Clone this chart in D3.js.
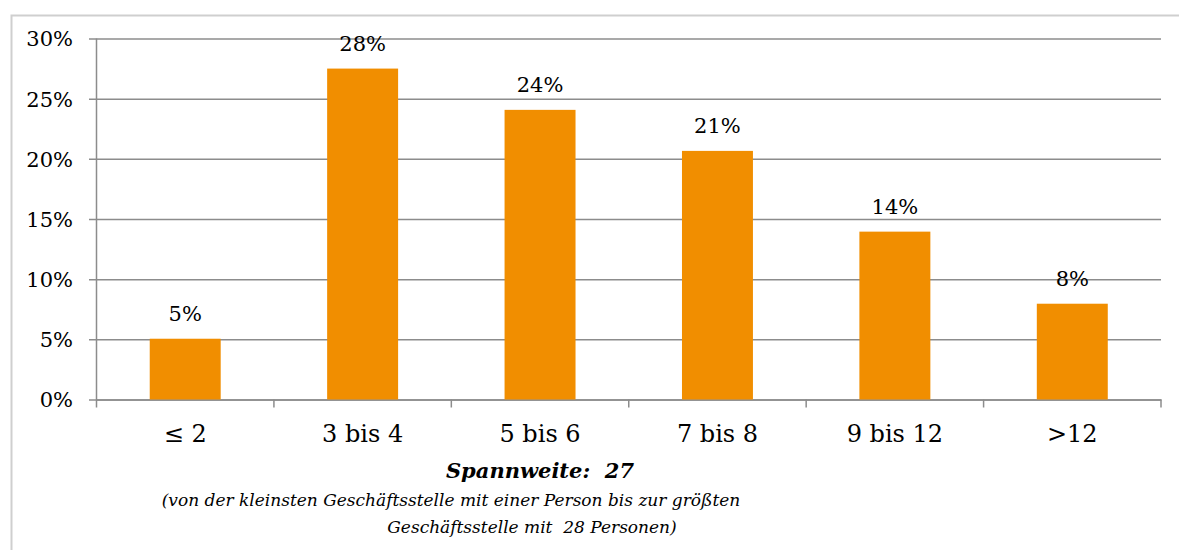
<!DOCTYPE html>
<html>
<head>
<meta charset="utf-8">
<script src="https://cdn.jsdelivr.net/npm/d3@7"></script>
<style>
  body { margin: 0; background: #fff; }
  svg { display: block; font-family: "DejaVu Serif", serif; }
</style>
</head>
<body>
<svg width="1179" height="550"></svg>
<script>
// chart data
var categories = ["≤ 2", "3 bis 4", "5 bis 6", "7 bis 8", "9 bis 12", ">12"];
var values = [5.05, 27.5, 24.07, 20.66, 13.95, 7.96];
var yTicks = [0, 5, 10, 15, 20, 25, 30];
var titleText = "Spannweite:  27";
var noteLines = [
  "(von der kleinsten Geschäftsstelle mit einer Person bis zur größten",
  "Geschäftsstelle mit  28 Personen)"
];

(function() {
  var svg = d3.select("svg");

  // outer frame
  svg.append("rect")
    .attr("x", 11.5).attr("y", 15.5)
    .attr("width", 1200).attr("height", 600)
    .attr("fill", "none")
    .attr("stroke", "#cfcfcf")
    .attr("stroke-width", 2);

  var pLeft = 96.5, pRight = 1161, pTop = 38.5, pBottom = 399.5;

  var x = d3.scaleBand().domain(categories).range([pLeft, pRight]).padding(0);
  var y = d3.scaleLinear().domain([0, 30]).range([pBottom, pTop]);

  // gridlines + y tick labels
  var yAxis = svg.append("g")
    .attr("transform", "translate(89,0)")
    .call(d3.axisLeft(y)
      .tickValues(yTicks)
      .tickSizeInner(-(pRight - 89))
      .tickSizeOuter(0)
      .tickPadding(16)
      .tickFormat(function(d) { return d + "%"; }));
  yAxis.select(".domain").remove();
  yAxis.selectAll("line").attr("stroke", "#8c8c8c").attr("stroke-width", 1.5);
  yAxis.selectAll("text")
    .attr("fill", "#000")
    .attr("font-size", 21)
    .attr("font-family", "DejaVu Serif")
    .attr("dy", "0.35em");

  // y axis line
  svg.append("line")
    .attr("x1", pLeft).attr("x2", pLeft)
    .attr("y1", pTop).attr("y2", pBottom + 8)
    .attr("stroke", "#8c8c8c").attr("stroke-width", 1.5);

  // category boundary ticks
  var bounds = categories.map(function(c) { return x(c); }).concat([x.range()[1]]);
  svg.selectAll(".xtick")
    .data(bounds.slice(1))
    .enter().append("line")
      .attr("class", "xtick")
      .attr("x1", function(d) { return d; })
      .attr("x2", function(d) { return d; })
      .attr("y1", pBottom).attr("y2", pBottom + 8)
      .attr("stroke", "#8c8c8c").attr("stroke-width", 1.5);

  // x axis labels
  var xAxis = svg.append("g")
    .attr("transform", "translate(0," + pBottom + ")")
    .call(d3.axisBottom(x).tickSize(0));
  xAxis.select(".domain").attr("stroke", "#8c8c8c").attr("stroke-width", 1.5);
  xAxis.selectAll("text")
    .attr("fill", "#000")
    .attr("font-size", 24)
    .attr("font-family", "DejaVu Serif")
    .attr("y", 42.5)
    .attr("dy", 0);

  // bars
  svg.selectAll(".bar")
    .data(values)
    .enter().append("rect")
      .attr("class", "bar")
      .attr("x", function(d, i) { return x(categories[i]) + x.bandwidth() * 0.3; })
      .attr("y", function(d) { return y(d); })
      .attr("width", x.bandwidth() * 0.4)
      .attr("height", function(d) { return y(0) - y(d); })
      .attr("fill", "#f18e00");

  // value labels
  svg.selectAll(".val")
    .data(values)
    .enter().append("text")
      .attr("class", "val")
      .attr("x", function(d, i) { return x(categories[i]) + x.bandwidth() / 2; })
      .attr("y", function(d) { return y(d) - 17.5; })
      .attr("text-anchor", "middle")
      .attr("font-size", 21)
      .text(function(d) { return Math.round(d) + "%"; });

  // note under the chart
  svg.append("text")
    .attr("x", 540).attr("y", 478)
    .attr("text-anchor", "middle")
    .attr("font-size", 21)
    .attr("font-weight", "bold")
    .attr("font-style", "italic")
    .attr("xml:space", "preserve")
    .text(titleText);

  svg.selectAll(".note")
    .data(noteLines)
    .enter().append("text")
      .attr("class", "note")
      .attr("x", function(d, i) { return i === 0 ? 451 : 532; })
      .attr("y", function(d, i) { return 506 + i * 27; })
      .attr("text-anchor", "middle")
      .attr("font-size", 17)
      .attr("font-style", "italic")
      .attr("xml:space", "preserve")
      .text(function(d) { return d; });
})();
</script>
</body>
</html>
